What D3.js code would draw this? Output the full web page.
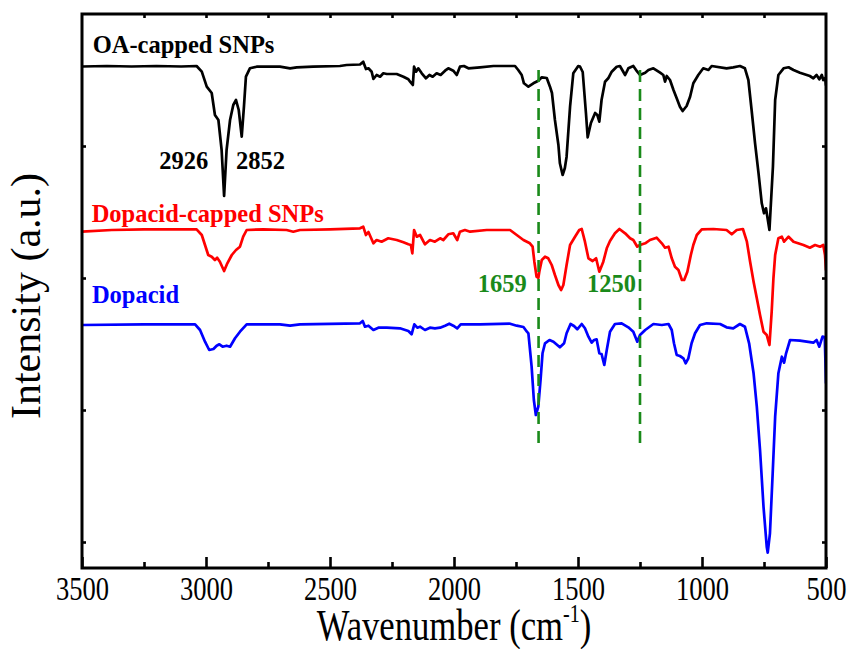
<!DOCTYPE html>
<html>
<head>
<meta charset="utf-8">
<script src="https://cdn.jsdelivr.net/npm/d3@7"></script>
<style>
  html, body { margin: 0; padding: 0; background: #ffffff; }
  svg { display: block; }
  text { font-family: "Liberation Serif", "Times New Roman", serif; }
</style>
</head>
<body>
<script>
// ---------- DATA (wavenumber in cm^-1, intensity in arbitrary units) ----------
const xMajorTicks = [3500, 3000, 2500, 2000, 1500, 1000, 500];
const xMinorTicks = [3250, 2750, 2250, 1750, 1250, 750];
const xTopTicks = [3250, 3000, 2750, 2500, 2250, 2000, 1750, 1500, 1250, 1000, 750];
const yTicks = [26, 158, 290, 422];

const oaSpectrum = [
  [3500,501.5],[3400,502],[3300,501.5],[3200,502],[3100,501.5],[3038,502],[3017,496.3],[2997,481.3],
  [2977,475],[2964,453],[2950,448],[2937,418],[2927,372],[2917,418],[2903,448],[2890,463],[2879,468],
  [2868,458],[2856,431.3],[2847,461.3],[2839,491.3],[2823,499.7],[2796,501.3],[2702,501.3],[2661,499.7],
  [2634,500.7],[2568,501.3],[2460,502],[2433,503],[2379,503.5],[2366,506.3],[2355,499],[2345,499.7],
  [2332,496.3],[2325,489],[2312,493],[2298,491.3],[2285,494.7],[2271,494],[2231,494],[2204,491.3],
  [2184,488.7],[2177,486.3],[2166,483],[2161,501.3],[2153,496.3],[2144,499.7],[2130,494.7],[2113,489.7],
  [2099,493],[2086,491.3],[2070,494.7],[2054,493],[2036,497.3],[2023,499.7],[2003,497.3],[1989,493],
  [1976,501.3],[1960,502],[1942,499.7],[1895,500.7],[1841,502],[1754,502],[1741,498],[1727,493],
  [1718,484.7],[1700,481.3],[1680,484.7],[1660,487.3],[1646,490.7],[1626,490],[1613,481.3],[1605,475],
  [1593,448],[1579,423],[1573,404.7],[1562,393],[1553,400],[1546,411.3],[1532,461.3],[1519,494.7],
  [1499,502],[1492,501.5],[1481,496],[1468,455],[1461,430.7],[1448,445],[1431,455],[1422,453],
  [1414,446.3],[1405,468],[1391,486.3],[1378,489.7],[1364,496.3],[1344,501.3],[1331,502],[1310,493],
  [1297,499.7],[1277,502],[1261,496.3],[1250,493],[1229,495.3],[1216,498],[1196,499.7],[1169,495.3],
  [1156,493],[1149,486.3],[1142,492],[1129,488],[1115,478],[1102,469.7],[1089,461.3],[1078,457],
  [1062,462],[1048,471.3],[1035,484.7],[1015,493],[995,499.7],[974,498],[961,502],[901,499.7],
  [874,500.7],[847,502],[827,499.7],[813,488],[800,458],[786,424.7],[772,394.7],[759,364.7],
  [750,354.7],[742,359.7],[728,338],[714,401.3],[705,468],[692,493],[671,499.7],[651,500.7],
  [631,498],[605,495.3],[565,492],[551,489.7],[538,493],[527,488.7],[517,493],[511,488],[503,490],[500,483]
];

const dopacidCappedSpectrum = [
  [3500,336.3],[3380,338],[3250,338.7],[3038,338.7],[3017,333],[3004,323],[2991,313],[2977,311.3],
  [2964,308],[2955,310.3],[2944,306.3],[2927,297],[2914,304.7],[2896,313],[2879,318],[2863,321.3],
  [2850,331.3],[2836,338],[2769,338.7],[2675,338],[2648,336.3],[2621,338],[2500,338.7],[2379,339.7],
  [2366,341.3],[2355,333],[2345,336],[2325,324.7],[2312,328],[2292,326.3],[2265,329.7],[2231,328],
  [2204,325.7],[2184,323.7],[2174,323],[2168,314.7],[2161,338],[2150,331.3],[2137,333],[2117,323.7],
  [2097,328],[2077,326.3],[2056,329.7],[2043,328],[2023,333.7],[2003,334.7],[1987,328],[1976,336.3],
  [1956,338],[1935,336.3],[1868,338],[1774,338],[1747,333],[1720,328],[1694,324.7],[1683,321.3],
  [1676,306.3],[1667,291.3],[1660,290],[1656,296.3],[1646,308],[1633,311.3],[1620,309.7],[1606,303],
  [1593,293],[1579,283],[1568,278],[1559,283],[1546,303],[1532,323],[1512,331.3],[1495,338],
  [1485,339],[1472,326.3],[1458,309.7],[1441,307],[1427,309.7],[1414,296.3],[1398,306.3],[1384,319.7],
  [1371,327],[1351,334.7],[1333,339],[1310,334.7],[1290,329.7],[1277,328],[1261,321.3],[1250,323],
  [1229,324.7],[1210,328],[1183,330.3],[1162,324.7],[1149,320.3],[1135,321.3],[1122,309.7],[1109,301.3],
  [1095,298],[1081,288],[1072,288],[1059,296.3],[1045,313],[1035,323],[1021,333],[1001,338.7],
  [954,339],[901,338],[880,333.7],[860,338],[835,339],[819,326.3],[806,306.3],[792,286.3],
  [779,269.7],[766,253],[752,236.3],[739,233],[728,223],[719,256.3],[712,289.7],[705,313],
  [692,329.7],[678,331.3],[669,326.3],[651,331.3],[631,326.3],[591,323],[565,320.3],[544,323],
  [524,321.3],[511,323],[504,313],[500,298]
];

const dopacidSpectrum = [
  [3500,243],[3250,243.7],[3044,243.7],[3024,238],[3004,226.3],[2987,218],[2970,219],[2957,222.3],
  [2946,223.7],[2933,221.3],[2917,222.3],[2903,221.3],[2883,229.7],[2863,236.3],[2836,243.7],
  [2702,243.7],[2661,242.3],[2621,243.7],[2379,244.7],[2368,247],[2359,241.3],[2345,242.3],[2325,238],
  [2305,240.3],[2271,240.3],[2218,239.7],[2184,237],[2171,233.7],[2160,243.7],[2148,240.3],[2137,241.3],
  [2117,238],[2097,240.3],[2077,239.7],[2056,240.3],[2036,242.3],[2019,244.3],[2003,242.3],[1987,239.7],
  [1973,243.7],[1895,243.7],[1774,244.3],[1747,242.3],[1720,241],[1706,236.3],[1700,234.7],[1687,201.3],
  [1678,168],[1670,153],[1660,161.3],[1651,188],[1643,214.7],[1633,224.7],[1615,228],[1599,226.3],
  [1573,220.7],[1556,224.7],[1546,234.7],[1530,244],[1516,242],[1503,238.7],[1485,244],[1472,239.7],
  [1458,231.3],[1445,225.3],[1435,228],[1425,228.7],[1414,214.7],[1405,214],[1394,203],[1384,218],
  [1371,236.3],[1351,244],[1324,244.7],[1297,240.7],[1277,236.3],[1261,226.3],[1250,233],[1229,238],
  [1196,244],[1162,243],[1135,244],[1122,238],[1113,224.7],[1102,213],[1089,212],[1075,209.7],
  [1066,204.7],[1055,209.7],[1042,224.7],[1028,234.7],[1008,243],[981,244.7],[927,244],[901,240.7],
  [874,239.7],[847,244],[827,241.3],[810,224.7],[792,194.7],[779,161.3],[766,118],[752,61.3],
  [739,21.3],[735,15.3],[726,34.7],[715,94.7],[705,151.3],[692,194.7],[678,211.3],[669,205.3],
  [661,214.7],[645,228],[605,227.3],[551,225.3],[538,228],[527,221.3],[514,231.3],[505,231],[500,185]
];

const seriesNames = ["OA-capped SNPs", "Dopacid-capped SNPs", "Dopacid"];
const seriesColors = ["#000000", "#ff0000", "#0000ff"];
const seriesLabelPos = [[3457, 514.7], [3461, 346.3], [3460, 265]];

const markerLines = [1659, 1250];
const markerRange = [121, 498];
const markerColor = "#1a8a1a";

const annotations = [
  { text: "2926", wn: 2991, y: 398.7, anchor: "end",   color: "#000000" },
  { text: "2852", wn: 2879, y: 398.7, anchor: "start", color: "#000000" },
  { text: "1659", wn: 1707, y: 275.7, anchor: "end",   color: markerColor },
  { text: "1250", wn: 1464, y: 275.7, anchor: "start", color: markerColor }
];

// ---------- CHART ----------
const W = 850, H = 649;
const svg = d3.select("body").append("svg").attr("width", W).attr("height", H);

const x = d3.scaleLinear().domain([3500, 500]).range([82, 826]);
const y = d3.scaleLinear().domain([0, 554]).range([568, 14]);

svg.append("defs").append("clipPath").attr("id", "plotclip")
  .append("rect").attr("x", x(3500)).attr("y", y(554))
  .attr("width", x(500) - x(3500)).attr("height", y(0) - y(554));

const line = d3.line().x(d => x(d[0])).y(d => y(d[1]));

const plot = svg.append("g").attr("clip-path", "url(#plotclip)");
[oaSpectrum, dopacidCappedSpectrum, dopacidSpectrum].forEach((s, i) => {
  plot.append("path").datum(s)
    .attr("d", line)
    .attr("fill", "none")
    .attr("stroke", seriesColors[i])
    .attr("stroke-width", 2.7)
    .attr("stroke-linejoin", "round")
    .attr("stroke-linecap", "round");
});

// marker dashed lines
svg.selectAll(".marker").data(markerLines).enter().append("line")
  .attr("x1", d => x(d)).attr("x2", d => x(d))
  .attr("y1", y(markerRange[1])).attr("y2", y(markerRange[0]))
  .attr("stroke", markerColor).attr("stroke-width", 2.6)
  .attr("stroke-dasharray", "12,7");

// axes ticks
function styleAxis(g) {
  g.select(".domain").remove();
  g.selectAll(".tick line").attr("stroke", "#000").attr("stroke-width", 2.6);
}
const gBottom = svg.append("g").attr("transform", `translate(0,${y(0)})`)
  .call(d3.axisBottom(x).tickValues(xMajorTicks).tickSize(-11).tickSizeOuter(0).tickFormat(d3.format("d")));
styleAxis(gBottom);
gBottom.selectAll(".tick text")
  .attr("y", 32.5).attr("dy", null)
  .attr("fill", "#000")
  .style("font-size", "34px")
  .attr("transform", "scale(0.78,1)");

const gBottomMinor = svg.append("g").attr("transform", `translate(0,${y(0)})`)
  .call(d3.axisBottom(x).tickValues(xMinorTicks).tickSize(-6).tickSizeOuter(0).tickFormat(""));
styleAxis(gBottomMinor);

const gTop = svg.append("g").attr("transform", `translate(0,${y(554)})`)
  .call(d3.axisTop(x).tickValues(xTopTicks).tickSize(-4).tickSizeOuter(0).tickFormat(""));
styleAxis(gTop);

const gLeft = svg.append("g").attr("transform", `translate(${x(3500)},0)`)
  .call(d3.axisLeft(y).tickValues(yTicks).tickSize(-4).tickSizeOuter(0).tickFormat(""));
styleAxis(gLeft);

const gRight = svg.append("g").attr("transform", `translate(${x(500)},0)`)
  .call(d3.axisRight(y).tickValues(yTicks).tickSize(-4).tickSizeOuter(0).tickFormat(""));
styleAxis(gRight);

// frame
svg.append("rect")
  .attr("x", x(3500)).attr("y", y(554))
  .attr("width", x(500) - x(3500)).attr("height", y(0) - y(554))
  .attr("fill", "none").attr("stroke", "#000").attr("stroke-width", 3);

// series labels
seriesNames.forEach((name, i) => {
  svg.append("text")
    .attr("x", x(seriesLabelPos[i][0])).attr("y", y(seriesLabelPos[i][1]))
    .attr("fill", seriesColors[i])
    .style("font-size", "24.5px").style("font-weight", "bold")
    .text(name);
});

// annotations
annotations.forEach(a => {
  svg.append("text")
    .attr("x", x(a.wn)).attr("y", y(a.y))
    .attr("text-anchor", a.anchor)
    .attr("fill", a.color)
    .style("font-size", "24.5px").style("font-weight", "bold")
    .text(a.text);
});

// x axis title
const xt = svg.append("text")
  .attr("transform", `translate(${(x(3500) + x(500)) / 2},640) scale(0.77,1)`)
  .attr("text-anchor", "middle")
  .attr("fill", "#000")
  .style("font-size", "45px");
xt.append("tspan").text("Wavenumber (cm");
xt.append("tspan").attr("dy", -18).style("font-size", "26px").text("-1");
xt.append("tspan").attr("dy", 18).text(")");

// y axis title
svg.append("text")
  .attr("transform", `translate(40,${(y(0) + y(554)) / 2 + 5}) rotate(-90)`)
  .attr("text-anchor", "middle")
  .attr("fill", "#000")
  .style("font-size", "42px")
  .text("Intensity (a.u.)");
</script>
</body>
</html>
